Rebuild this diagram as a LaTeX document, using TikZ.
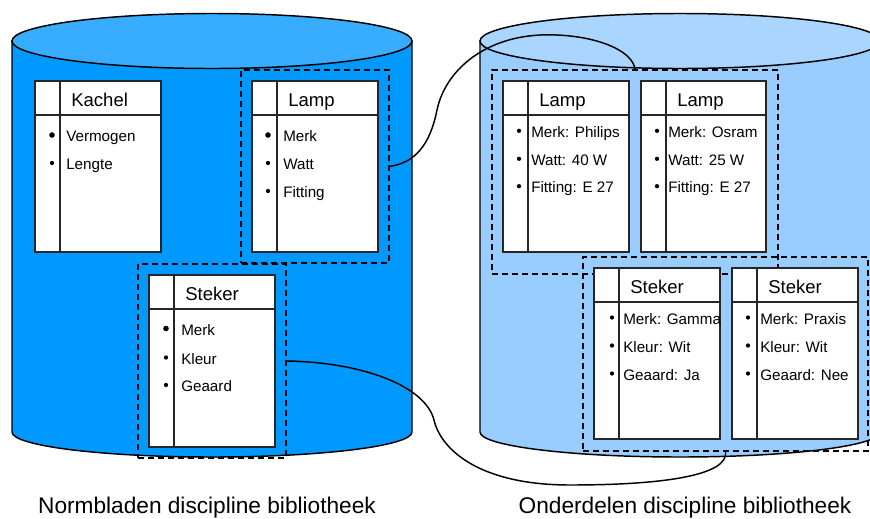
\documentclass[tikz,border=0pt]{standalone}
\usepackage{fontspec}
\setmainfont{Liberation Sans}
\usetikzlibrary{calc}

\definecolor{normside}{HTML}{0099FF}
\definecolor{normtop}{HTML}{38ACFF}
\definecolor{partside}{HTML}{99CCFF}
\definecolor{parttop}{HTML}{AAD5FF}

\tikzset{
  cylline/.style={draw=black, line width=1.1pt},
  group/.style={draw=black, dash pattern=on 4.5pt off 3pt, line width=1.4pt,
    rectangle, inner sep=0pt, outer sep=0pt},
  cls/.style={draw=black!85, fill=white, line width=1.3pt, rectangle,
    inner sep=0pt, outer sep=0pt},
  clsline/.style={draw=black!85, line width=1.3pt},
  ttl/.style={font=\fontsize{13.9}{16}\selectfont, inner sep=0pt},
  attr/.style={font=\fontsize{11.4}{13}\selectfont, inner sep=0pt},
  dot/.style={circle, fill=black, inner sep=0pt, minimum size=3.2pt},
  bigdot/.style={circle, fill=black, inner sep=0pt, minimum size=4.2pt},
  link/.style={draw=black, line width=1.1pt},
  caption/.style={font=\fontsize{17}{20}\selectfont, inner sep=0pt},
}

% class box: name, x, y, width, height, title
\newcommand\clsbox[6]{%
  \node[cls, anchor=north west, minimum width=#4*0.75pt, minimum height=#5*0.75pt] (#1) at (#2,#3) {};
  \draw[clsline] ($(#1.north west)+(0,34)$) -- ($(#1.north east)+(0,34)$);
  \draw[clsline] ($(#1.north west)+(25,0)$) -- ($(#1.south west)+(25,0)$);
  \node[ttl, anchor=base west] (#1-title) at ($(#1.north west)+(36,25)$) {#6};
}
% attribute line: name, dot style, dot x, text x, baseline y, text
\newcommand\attrline[6]{%
  \node[#2] (#1-dot) at (#3,#5-6.5) {};
  \node[attr, anchor=base west] (#1) at (#4,#5) {#6};
}

\begin{document}
\begin{tikzpicture}[x=0.75pt, y=-0.75pt]
\useasboundingbox (0,0) rectangle (870,518);
\clip (0,0) rectangle (870,518);

% left cylinder
\filldraw[cylline, fill=normside] (12,41) -- (12,432)
  arc[start angle=180, end angle=0, x radius=200, y radius=25] -- (412,41) -- cycle;
\filldraw[cylline, fill=normtop] (212,41) ellipse [x radius=200, y radius=27.5];

% right cylinder
\filldraw[cylline, fill=partside] (480,41) -- (480,432)
  arc[start angle=180, end angle=0, x radius=200, y radius=25] -- (880,41) -- cycle;
\filldraw[cylline, fill=parttop] (680,41) ellipse [x radius=200, y radius=27.5];

% dashed groups
\node[group, anchor=north west, minimum width=148*0.75pt, minimum height=193*0.75pt] (lampgrp) at (241,70) {};
\node[group, anchor=north west, minimum width=148*0.75pt, minimum height=194*0.75pt] (stekgrp) at (138,264) {};
\node[group, anchor=north west, minimum width=286*0.75pt, minimum height=204*0.75pt] (lampgrp2) at (492,70) {};
\node[group, anchor=north west, minimum width=285*0.75pt, minimum height=194*0.75pt] (stekgrp2) at (583,257) {};

% left library
\clsbox{kachel}{35}{81}{126}{171}{Kachel}
\attrline{kachel-a}{bigdot}{52}{66}{141.5}{Vermogen}
\attrline{kachel-b}{dot}{52}{66}{169.5}{Lengte}

\clsbox{lamp}{252}{81}{126}{171}{Lamp}
\attrline{lamp-a}{bigdot}{268}{283}{141.5}{Merk}
\attrline{lamp-b}{dot}{268}{283}{169.5}{Watt}
\attrline{lamp-c}{dot}{268}{283}{197.5}{Fitting}

\clsbox{steker}{149}{275}{126}{172}{Steker}
\attrline{steker-a}{bigdot}{166}{181}{335}{Merk}
\attrline{steker-b}{dot}{166}{181}{364}{Kleur}
\attrline{steker-c}{dot}{166}{181}{391.5}{Geaard}

% right library
\clsbox{lampp}{503}{81}{126}{171}{Lamp}
\attrline{lampp-a}{dot}{519}{531}{137.3}{Merk: Philips}
\attrline{lampp-b}{dot}{519}{531}{165.3}{Watt: 40 W}
\attrline{lampp-c}{dot}{519}{531}{192.7}{Fitting: E 27}

\clsbox{lampo}{641}{81}{125}{171}{Lamp}
\attrline{lampo-a}{dot}{657}{668}{137.3}{Merk: Osram}
\attrline{lampo-b}{dot}{657}{668}{165.3}{Watt: 25 W}
\attrline{lampo-c}{dot}{657}{668}{192.7}{Fitting: E 27}

\clsbox{stekg}{594}{268}{126}{171}{Steker}
\attrline{stekg-a}{dot}{612}{623}{324}{Merk: Gamma}
\attrline{stekg-b}{dot}{612}{623}{352}{Kleur: Wit}
\attrline{stekg-c}{dot}{612}{623}{380}{Geaard: Ja}

\clsbox{stekp}{732}{268}{126}{171}{Steker}
\attrline{stekp-a}{dot}{748}{760}{324}{Merk: Praxis}
\attrline{stekp-b}{dot}{748}{760}{352}{Kleur: Wit}
\attrline{stekp-c}{dot}{748}{760}{380}{Geaard: Nee}

% links between the libraries
\draw[link] (lampgrp.east) .. controls (415,163) and (430,145) .. (437,110)
  .. controls (445,72) and (482,38) .. (540,35)
  .. controls (592,33) and (634,50) .. (lampgrp2.north);
\draw[link] (stekgrp.east) .. controls (360,362) and (425,385) .. (434,420)
  .. controls (441,450) and (480,485) .. (570,485)
  .. controls (660,485) and (730,476) .. (stekgrp2.south);

% captions
\node[caption, anchor=base] (normcap) at (207,513) {Normbladen discipline bibliotheek};
\node[caption, anchor=base] (partcap) at (685,513) {Onderdelen discipline bibliotheek};
\end{tikzpicture}
\end{document}
